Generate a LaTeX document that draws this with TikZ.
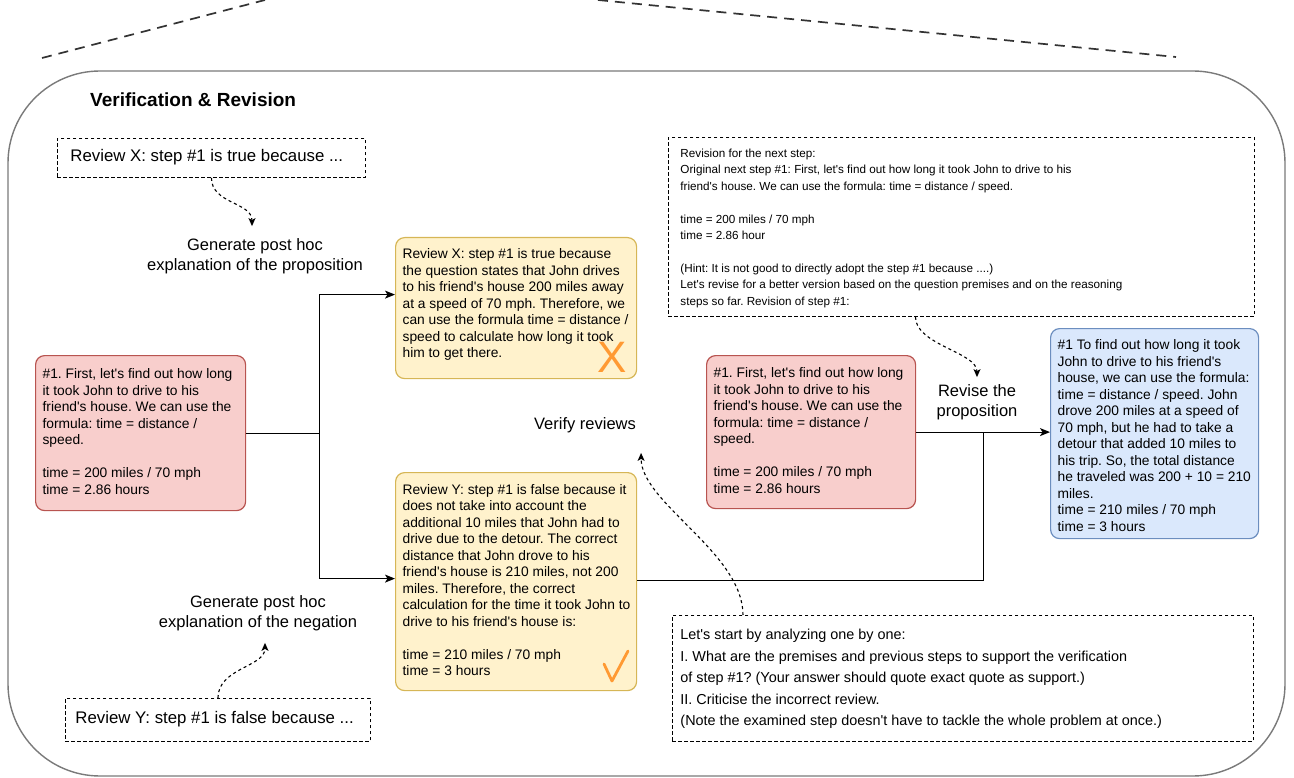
\documentclass[tikz,border=0pt]{standalone}
\usepackage{fontspec}
\setmainfont{Liberation Sans}[Ligatures=TeXOff]
\usetikzlibrary{arrows.meta}
\frenchspacing

\definecolor{redfill}{HTML}{F8CECC}
\definecolor{redline}{HTML}{B85450}
\definecolor{yelfill}{HTML}{FFF2CC}
\definecolor{yelline}{HTML}{D6B656}
\definecolor{bluefill}{HTML}{DAE8FC}
\definecolor{blueline}{HTML}{6C8EBF}
\definecolor{markorange}{HTML}{FF9A33}
\definecolor{framegray}{HTML}{7A7A7A}
\definecolor{guidegray}{HTML}{333333}

% #1 top offset, #2 width, #3 height, #4 inner position (t/c), #5 lines
\newcommand{\cardtext}[5][0pt]{%
  \begin{minipage}[c][#3][#4]{#2}\vspace*{#1}%
  \begin{tabular}{@{}l@{}}#5\end{tabular}\end{minipage}}

\begin{document}
\begin{tikzpicture}[x=1pt,y=-1pt,
  card/.style={draw, line width=1.2pt, rounded corners=9pt, inner xsep=7pt,
    inner ysep=0pt, anchor=north west, font=\fontsize{13.8}{16.5}\selectfont},
  redcard/.style={card, fill=redfill, draw=redline},
  yelcard/.style={card, fill=yelfill, draw=yelline},
  bluecard/.style={card, fill=bluefill, draw=blueline},
  dashbox/.style={draw, dash pattern=on 3.5pt off 2.5pt, line width=0.9pt,
    anchor=north west, inner ysep=0pt},
  lab/.style={align=center, font=\fontsize{16.5}{20}\selectfont, inner sep=0pt},
  conn/.style={line width=1.2pt, -{Stealth[length=10pt,width=8pt,inset=2.5pt]}},
  plainline/.style={line width=1.2pt},
  hint/.style={dash pattern=on 3pt off 3pt, line width=1.1pt,
    -{Stealth[length=8pt,width=7pt,inset=2pt]}},
  guide/.style={dash pattern=on 10pt off 7pt, line width=1.7pt, draw=guidegray},
  frame/.style={draw=framegray, line width=1.4pt, rounded corners=92pt},
  tickstroke/.style={draw=markorange, line width=2.8pt, line cap=round, line join=round}
]
\useasboundingbox (0,0) rectangle (1294,778);

% guide lines coming from the stage above
\coordinate (gl1) at (42,58);
\coordinate (gl2) at (265,0);
\coordinate (gr1) at (598,0);
\coordinate (gr2) at (1176,57);
\draw[guide] (gl1) -- (gl2);
\draw[guide] (gr1) -- (gr2);

% outer frame
\draw[frame] (8,71) rectangle (1285,776);

\node[anchor=west, inner sep=0pt, font=\bfseries\fontsize{19}{23}\selectfont]
  (title) at (90,100) {Verification \& Revision};

% prompts (dashed)
\node[dashbox, inner xsep=13pt, font=\fontsize{16.8}{20}\selectfont] (reviewX) at (57,138)
  {\cardtext{282pt}{39pt}{c}{Review X: step \#1 is true because ...}};
\node[dashbox, inner xsep=10pt, font=\fontsize{16.8}{20}\selectfont] (reviewY) at (65,698)
  {\cardtext{285pt}{43pt}{c}{Review Y: step \#1 is false because ...}};
\node[dashbox, inner xsep=12pt, font=\fontsize{11.7}{16.4}\selectfont] (revbox) at (668,137)
  {\cardtext[8.5pt]{562pt}{179pt}{t}{%
    Revision for the next step:\\
    Original next step \#1: First, let's find out how long it took John to drive to his\\
    friend's house. We can use the formula: time = distance / speed.\\
    \\
    time = 200 miles / 70 mph\\
    time = 2.86 hour\\
    \\
    (Hint: It is not good to directly adopt the step \#1 because ....)\\
    Let's revise for a better version based on the question premises and on the reasoning\\
    steps so far. Revision of step \#1:}};
\node[dashbox, inner xsep=8pt, font=\fontsize{14.4}{21.6}\selectfont] (prompt) at (672,615)
  {\cardtext{565pt}{126pt}{c}{%
    Let's start by analyzing one by one:\\
    I. What are the premises and previous steps to support the verification\\
    of step \#1? (Your answer should quote exact quote as support.)\\
    II. Criticise the incorrect review.\\
    (Note the examined step doesn't have to tackle the whole problem at once.)}};

% reasoning steps
\node[redcard] (redL) at (35,355)
  {\cardtext{196pt}{155pt}{c}{%
    \#1. First, let's find out how long\\
    it took John to drive to his\\
    friend's house. We can use the\\
    formula: time = distance /\\
    speed.\\
    \\
    time = 200 miles / 70 mph\\
    time = 2.86 hours}};
\node[redcard] (redR) at (706,355)
  {\cardtext{195pt}{153pt}{c}{%
    \#1. First, let's find out how long\\
    it took John to drive to his\\
    friend's house. We can use the\\
    formula: time = distance /\\
    speed.\\
    \\
    time = 200 miles / 70 mph\\
    time = 2.86 hours}};

% reviews
\node[yelcard] (yX) at (395,237)
  {\cardtext[9.5pt]{227pt}{141pt}{t}{%
    Review X: step \#1 is true because\\
    the question states that John drives\\
    to his friend's house 200 miles away\\
    at a speed of 70 mph. Therefore, we\\
    can use the formula time = distance /\\
    speed to calculate how long it took\\
    him to get there.}};
\node[yelcard] (yY) at (395,472)
  {\cardtext{227pt}{218pt}{c}{%
    Review Y: step \#1 is false because it\\
    does not take into account the\\
    additional 10 miles that John had to\\
    drive due to the detour. The correct\\
    distance that John drove to his\\
    friend's house is 210 miles, not 200\\
    miles. Therefore, the correct\\
    calculation for the time it took John to\\
    drive to his friend's house is:\\
    \\
    time = 210 miles / 70 mph\\
    time = 3 hours}};

% revised step
\node[bluecard] (blue) at (1050,328)
  {\cardtext[9.5pt]{194pt}{210pt}{t}{%
    \#1 To find out how long it took\\
    John to drive to his friend's\\
    house, we can use the formula:\\
    time = distance / speed. John\\
    drove 200 miles at a speed of\\
    70 mph, but he had to take a\\
    detour that added 10 miles to\\
    his trip. So, the total distance\\
    he traveled was 200 + 10 = 210\\
    miles.\\
    time = 210 miles / 70 mph\\
    time = 3 hours}};

% verdict marks
\node[text=markorange, inner sep=0pt, font=\fontsize{44}{44}\selectfont] (wrong) at (612,357) {X};
\coordinate (ck1) at (604,664);
\coordinate (ck2) at (612,681);
\coordinate (ck3) at (628,651);
\draw[tickstroke] (ck1) -- (ck2) -- (ck3);

% stage labels
\node[lab] (labX) at (255,256) {Generate post hoc\\explanation of the proposition};
\node[lab] (labNeg) at (258,613) {Generate post hoc\\explanation of the negation};
\node[lab] (labVer) at (585,425) {Verify reviews};
\node[lab] (labRev) at (977,402) {Revise the\\proposition};

% solid connectors
\draw[conn] (redL.east) -- ++(73,0) coordinate (fork) |- ([yshift=13.5pt]yX.west);
\draw[conn] (fork) |- ([yshift=3pt]yY.west);
\draw[conn] (redR.east) -- (redR.east -| blue.west);
\path (redR.east) -- (redR.east -| blue.west) coordinate[pos=0.5] (jn);
\draw[plainline] ([yshift=1pt]yY.east) -| (jn);

% dashed prompt arrows
\draw[hint] (reviewX.south) .. controls +(0,26) and +(0,-24) .. ([xshift=-3pt,yshift=12pt]labX.north);
\draw[hint] (reviewY.north) .. controls +(0,-30) and +(0,24) .. ([xshift=7pt,yshift=-12pt]labNeg.south);
\draw[hint] ([xshift=71pt]prompt.north west) .. controls +(0,-62) and +(0,50) .. ([xshift=5pt,yshift=-20pt]labVer.south east);
\draw[hint] ([xshift=-46pt]revbox.south) .. controls +(0,28) and +(0,-25) .. ([yshift=7pt]labRev.north);
\end{tikzpicture}
\end{document}
